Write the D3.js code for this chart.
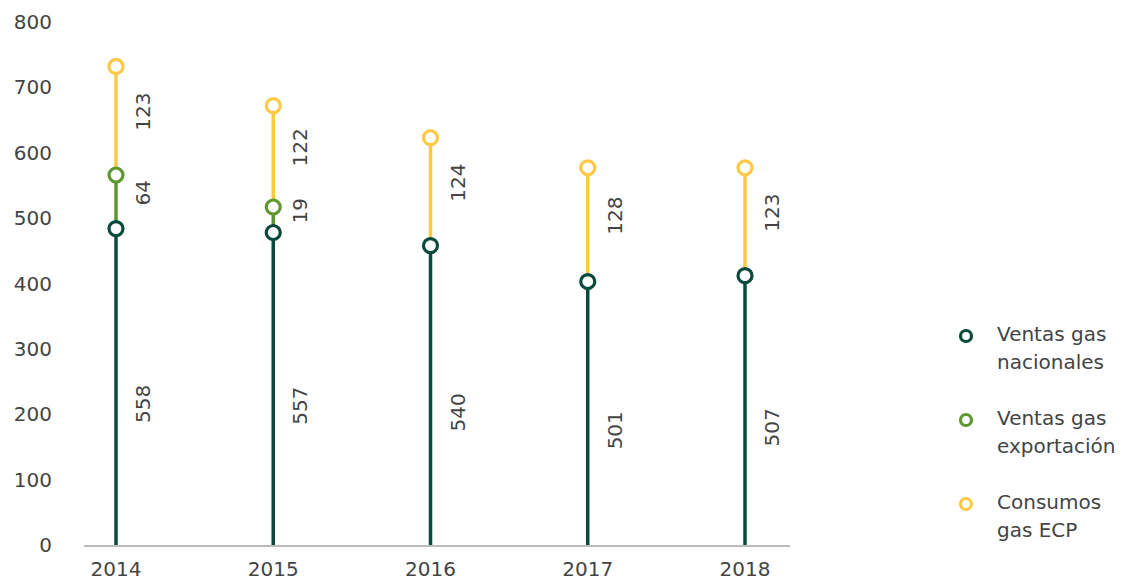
<!DOCTYPE html>
<html>
<head>
<meta charset="utf-8">
<script src="https://cdn.jsdelivr.net/npm/d3@7"></script>
<style>
  body { margin: 0; background: #fff; }
  svg { display: block; font-family: "DejaVu Sans", "Lato", sans-serif; }
</style>
</head>
<body>
<div id="chart"></div>
<script>
// --- datos ---
const years = ["2014", "2015", "2016", "2017", "2018"];
// posición de cada punto (acumulado)
const nacionalPos = [484, 478, 458, 403, 412];
const exportPos = [566, 517, null, null, null];
const consumoPos = [732, 672, 623, 577, 577];
// etiquetas mostradas
const nacionalLabels = [558, 557, 540, 501, 507];
const exportLabels = [64, 19, null, null, null];
const consumoLabels = [123, 122, 124, 128, 123];
const yTicks = [0, 100, 200, 300, 400, 500, 600, 700, 800];
const seriesNames = [["Ventas gas", "nacionales"], ["Ventas gas", "exportación"], ["Consumos", "gas ECP"]];

const colors = ["#0a4a3d", "#5e9732", "#ffc845"];
const textColor = "#444";

const W = 1127, H = 581;
const svg = d3.select("#chart").append("svg").attr("width", W).attr("height", H);

const x = d3.scalePoint().domain(years).range([116, 745]);
const y = d3.scaleLinear().domain([0, 800]).range([545, 22]);

// --- eje y (solo etiquetas) ---
svg.append("g")
  .selectAll("text")
  .data(yTicks)
  .join("text")
  .attr("x", 52)
  .attr("y", (d) => y(d))
  .attr("dy", "0.35em")
  .attr("text-anchor", "end")
  .attr("font-size", 20)
  .attr("fill", textColor)
  .text((d) => d);

// --- eje x ---
svg.append("line")
  .attr("x1", 84).attr("x2", 790)
  .attr("y1", y(0) + 1).attr("y2", y(0) + 1)
  .attr("stroke", "#a6a6a6").attr("stroke-width", 1.5);

svg.append("g")
  .selectAll("text")
  .data(years)
  .join("text")
  .attr("x", (d) => x(d))
  .attr("y", 576)
  .attr("text-anchor", "middle")
  .attr("font-size", 20)
  .attr("fill", textColor)
  .text((d) => d);

// --- segmentos ---
const rows = years.map((yr, i) => {
  const segs = [];
  segs.push({ from: 0, to: nacionalPos[i], color: colors[0], label: nacionalLabels[i], off: 17 });
  let base = nacionalPos[i];
  if (exportPos[i] != null) {
    segs.push({ from: base, to: exportPos[i], color: colors[1], label: exportLabels[i], off: -9 });
    base = exportPos[i];
  }
  segs.push({ from: base, to: consumoPos[i], color: colors[2], label: consumoLabels[i], off: -9 });
  return { year: yr, segs };
});

const g = svg.append("g");
rows.forEach((r) => {
  const cx = x(r.year);
  // lineas
  r.segs.forEach((s) => {
    g.append("line")
      .attr("x1", cx).attr("x2", cx)
      .attr("y1", y(s.from)).attr("y2", y(s.to))
      .attr("stroke", s.color).attr("stroke-width", 3.5);
  });
  // etiquetas
  r.segs.forEach((s) => {
    const my = (y(s.from) + y(s.to)) / 2 + s.off;
    g.append("text")
      .attr("transform", `translate(${cx + 27},${my}) rotate(-90)`)
      .attr("text-anchor", "middle")
      .attr("dy", "0.35em")
      .attr("font-size", 20)
      .attr("fill", textColor)
      .text(s.label);
  });
  // circulos
  r.segs.forEach((s) => {
    g.append("circle")
      .attr("cx", cx).attr("cy", y(s.to))
      .attr("r", 7)
      .attr("fill", "#fff")
      .attr("stroke", s.color).attr("stroke-width", 3.2);
  });
});

// --- leyenda ---
const legend = svg.append("g");
seriesNames.forEach((lines, i) => {
  const ly = 336 + i * 84;
  legend.append("circle")
    .attr("cx", 966).attr("cy", ly)
    .attr("r", 5.5)
    .attr("fill", "#fff")
    .attr("stroke", colors[i]).attr("stroke-width", 3.2);
  const t = legend.append("text")
    .attr("x", 997).attr("y", ly - 2)
    .attr("font-size", 20)
    .attr("fill", textColor);
  lines.forEach((ln, j) => {
    t.append("tspan").attr("x", 997).attr("dy", j === 0 ? "0.35em" : 28).text(ln);
  });
});
</script>
</body>
</html>
